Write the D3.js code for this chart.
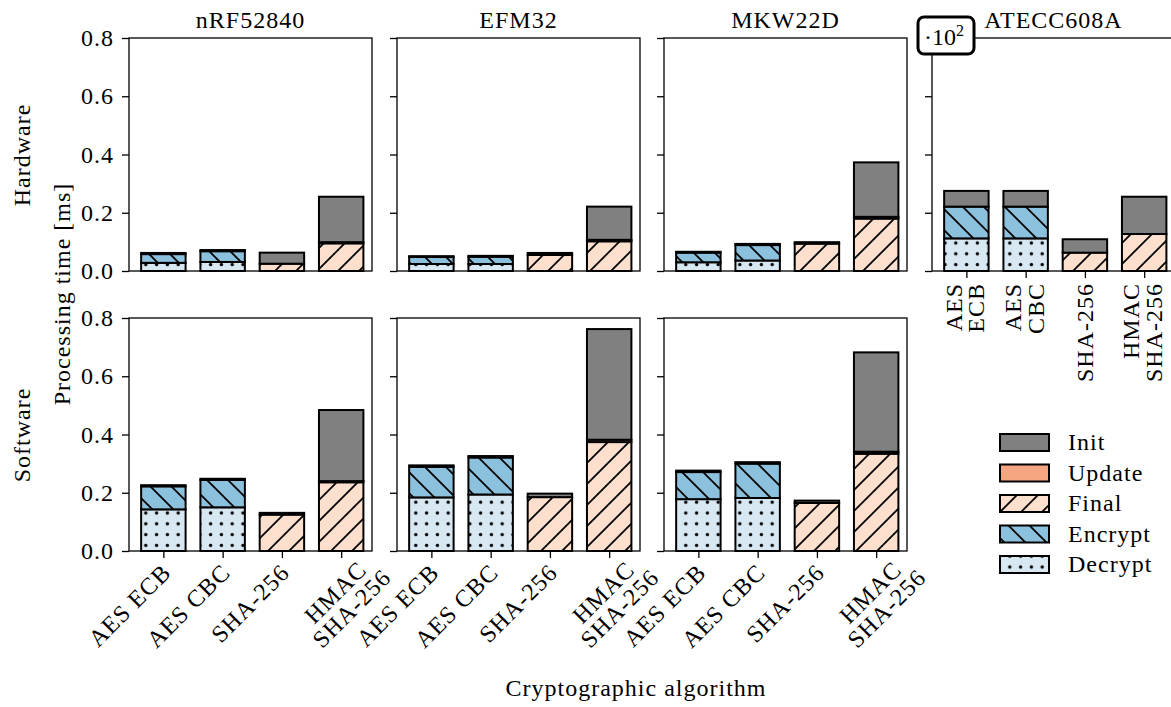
<!DOCTYPE html>
<html>
<head>
<meta charset="utf-8">
<script src="https://cdn.jsdelivr.net/npm/d3@7"></script>
<style>
  body { margin: 0; background: #fff; overflow: hidden; }
  svg { display: block; }
  text { font-family: "Liberation Serif", "DejaVu Serif", serif; fill: #000; letter-spacing: 1px; }
</style>
</head>
<body>
<div id="chart"></div>
<script>
// boards and algorithms
const boards = ["nRF52840", "EFM32", "MKW22D", "ATECC608A"];
const algorithms = ["AES ECB", "AES CBC", "SHA-256", "HMAC SHA-256"];
// stacking order, bottom to top
const phases = ["Decrypt", "Encrypt", "Final", "Update", "Init"];
const yTicks = [0.0, 0.2, 0.4, 0.6, 0.8];

// values per algorithm: [Decrypt, Encrypt, Final, Update, Init] in ms
const hwNRF = [[0.028, 0.030, 0, 0, 0.004], [0.031, 0.037, 0, 0, 0.004], [0, 0, 0.025, 0, 0.038], [0, 0, 0.095, 0.004, 0.156]];
const hwEFM = [[0.024, 0.024, 0, 0, 0.003], [0.024, 0.025, 0, 0, 0.003], [0, 0, 0.055, 0, 0.007], [0, 0, 0.102, 0.005, 0.114]];
const hwMKW = [[0.030, 0.033, 0, 0, 0.003], [0.036, 0.053, 0, 0, 0.004], [0, 0, 0.094, 0, 0.005], [0, 0, 0.180, 0.006, 0.187]];
// ATECC608A is shown scaled by 10^2
const hwATECC = [[0.112, 0.109, 0, 0, 0.054], [0.112, 0.109, 0, 0, 0.054], [0, 0, 0.063, 0, 0.046], [0, 0, 0.127, 0, 0.128]];
const swNRF = [[0.143, 0.079, 0, 0, 0.004], [0.150, 0.094, 0, 0, 0.004], [0, 0, 0.125, 0, 0.006], [0, 0, 0.236, 0.004, 0.244]];
const swEFM = [[0.184, 0.105, 0, 0, 0.005], [0.194, 0.127, 0, 0, 0.005], [0, 0, 0.185, 0, 0.012], [0, 0, 0.374, 0.008, 0.380]];
const swMKW = [[0.178, 0.093, 0, 0, 0.005], [0.182, 0.118, 0, 0, 0.005], [0, 0, 0.165, 0, 0.008], [0, 0, 0.334, 0.007, 0.341]];

const panels = [
  {row: 0, col: 0, title: boards[0], values: hwNRF},
  {row: 0, col: 1, title: boards[1], values: hwEFM},
  {row: 0, col: 2, title: boards[2], values: hwMKW},
  {row: 0, col: 3, title: boards[3], values: hwATECC},
  {row: 1, col: 0, values: swNRF},
  {row: 1, col: 1, values: swEFM},
  {row: 1, col: 2, values: swMKW}
];

const W = 1171, H = 707;
const colLeft = [129, 397, 664, 932];
const panelW = 243;
const rowTop = [38, 318];
const panelH = 233;
const fs = "24px";

const svg = d3.select("#chart").append("svg")
  .attr("width", W).attr("height", H);

// hatch patterns
const defs = svg.append("defs");
const colors = {Init: "#808080", Update: "#f4a582", Final: "#fcdfcc", Encrypt: "#8cc1dd", Decrypt: "#d8e8f2"};

function hatch(id, bg, d, size) {
  const p = defs.append("pattern").attr("id", id)
    .attr("patternUnits", "userSpaceOnUse").attr("width", size).attr("height", size);
  p.append("rect").attr("width", size).attr("height", size).attr("fill", bg);
  p.append("path").attr("d", d).attr("stroke", "#000").attr("stroke-width", 1.8).attr("fill", "none");
}
const s = 21;
hatch("finalHatch", colors.Final, `M0,${s} L${s},0 M${-s/2},${s/2} L${s/2},${-s/2} M${s/2},${s*1.5} L${s*1.5},${s/2}`, s);
hatch("encHatch", colors.Encrypt, `M0,0 L${s},${s} M${-s/2},${s/2} L${s/2},${s*1.5} M${s/2},${-s/2} L${s*1.5},${s/2}`, s);
const dp = defs.append("pattern").attr("id", "dots")
  .attr("patternUnits", "userSpaceOnUse").attr("width", 10.8).attr("height", 10.8);
dp.append("rect").attr("width", 10.8).attr("height", 10.8).attr("fill", colors.Decrypt);
dp.append("circle").attr("cx", 5.4).attr("cy", 5.4).attr("r", 1.7).attr("fill", "#000");

const fills = {Init: colors.Init, Update: colors.Update, Final: "url(#finalHatch)", Encrypt: "url(#encHatch)", Decrypt: "url(#dots)"};

panels.forEach(p => {
  const x0 = colLeft[p.col], y0 = rowTop[p.row];
  const x = d3.scaleLinear().domain([-0.58, 3.52]).range([x0, x0 + panelW]);
  const y = d3.scaleLinear().domain([0, 0.8]).range([y0 + panelH, y0]);
  const g = svg.append("g");

  // stacked bars
  p.values.forEach((vals, i) => {
    let base = 0;
    vals.forEach((v, k) => {
      if (v > 0) {
        g.append("rect")
          .attr("x", x(i - 0.375)).attr("width", x(i + 0.375) - x(i - 0.375))
          .attr("y", y(base + v)).attr("height", y(base) - y(base + v))
          .attr("fill", fills[phases[k]])
          .attr("stroke", "#000").attr("stroke-width", 2);
      }
      base += v;
    });
  });

  // y axis
  const yAxis = d3.axisLeft(y).tickValues(yTicks).tickSize(7).tickPadding(8)
    .tickFormat(p.col === 0 ? d3.format(".1f") : "");
  const ya = g.append("g").attr("transform", `translate(${x0},0)`).call(yAxis);
  ya.select(".domain").remove();
  ya.selectAll("line").attr("stroke-width", 1.3);
  ya.selectAll("text").style("font-size", fs).style("font-family", "Liberation Serif");

  // x ticks
  const showX = p.row === 1 || p.col === 3;
  if (showX) {
    const xa = g.append("g").attr("transform", `translate(0,${y0 + panelH})`)
      .call(d3.axisBottom(x).tickValues([0, 1, 2, 3]).tickSize(7).tickFormat(""));
    xa.select(".domain").remove();
    xa.selectAll("line").attr("stroke-width", 1.3);
    algorithms.forEach((a, i) => {
      const lines = a === "HMAC SHA-256" ? ["HMAC", "SHA-256"] : (p.col === 3 && a.startsWith("AES") ? a.split(" ") : [a]);
      if (p.col === 3) {
        // rotated 90 degrees, centred on the tick
        const t = g.append("text")
          .attr("transform", `translate(${x(i)},${y0 + panelH + 12}) rotate(-90)`)
          .attr("text-anchor", "end").style("font-size", fs);
        const first = lines.length === 2 ? -0.2 : 0.35;
        lines.forEach((l, j) => t.append("tspan").attr("x", 0)
          .attr("y", `${first + j * 0.95}em`).text(l));
      } else {
        // rotated 45 degrees, lines centred in their block
        const two = lines.length === 2;
        const t = g.append("text")
          .attr("transform", `translate(${x(i) + (two ? 24 : -2)},${y0 + panelH + (two ? 1 : 12)}) rotate(-45)`)
          .attr("text-anchor", "middle").style("font-size", fs);
        const spans = lines.map((l, j) => t.append("tspan").attr("y", `${0.65 + j * 0.95}em`).text(l));
        const wMax = d3.max(spans, sp => sp.node().getComputedTextLength());
        spans.forEach(sp => sp.attr("x", -wMax / 2));
      }
    });
  }

  // spines
  g.append("rect").attr("x", x0).attr("y", y0).attr("width", panelW).attr("height", panelH)
    .attr("fill", "none").attr("stroke", "#000").attr("stroke-width", 1.3);

  if (p.title) {
    g.append("text").attr("x", x0 + panelW / 2).attr("y", 28)
      .attr("text-anchor", "middle").style("font-size", fs).text(p.title);
  }
});

// scale marker for ATECC608A
svg.append("rect").attr("x", 918).attr("y", 17).attr("width", 56).attr("height", 37)
  .attr("rx", 6).attr("fill", "#fff").attr("stroke", "#000").attr("stroke-width", 3);
const sc = svg.append("text").attr("x", 944).attr("y", 45).attr("text-anchor", "middle")
  .style("font-size", fs).style("letter-spacing", "0px");
sc.append("tspan").text("\u00b710");
sc.append("tspan").attr("dy", -9).style("font-size", "16px").text("2");

// legend
const legendItems = ["Init", "Update", "Final", "Encrypt", "Decrypt"];
legendItems.forEach((name, i) => {
  const ly = 434 + i * 30.5;
  svg.append("rect").attr("x", 1000).attr("y", ly).attr("width", 49).attr("height", 17)
    .attr("fill", fills[name]).attr("stroke", "#000").attr("stroke-width", 2);
  svg.append("text").attr("x", 1068).attr("y", ly + 16).style("font-size", fs).text(name);
});

// axis labels
svg.append("text").attr("transform", "translate(30,155) rotate(-90)")
  .attr("text-anchor", "middle").style("font-size", fs).text("Hardware");
svg.append("text").attr("transform", "translate(30,435) rotate(-90)")
  .attr("text-anchor", "middle").style("font-size", fs).text("Software");
svg.append("text").attr("transform", "translate(70,294) rotate(-90)")
  .attr("text-anchor", "middle").style("font-size", fs).text("Processing time [ms]");
svg.append("text").attr("x", 636).attr("y", 696)
  .attr("text-anchor", "middle").style("font-size", fs).text("Cryptographic algorithm");
</script>
</body>
</html>
